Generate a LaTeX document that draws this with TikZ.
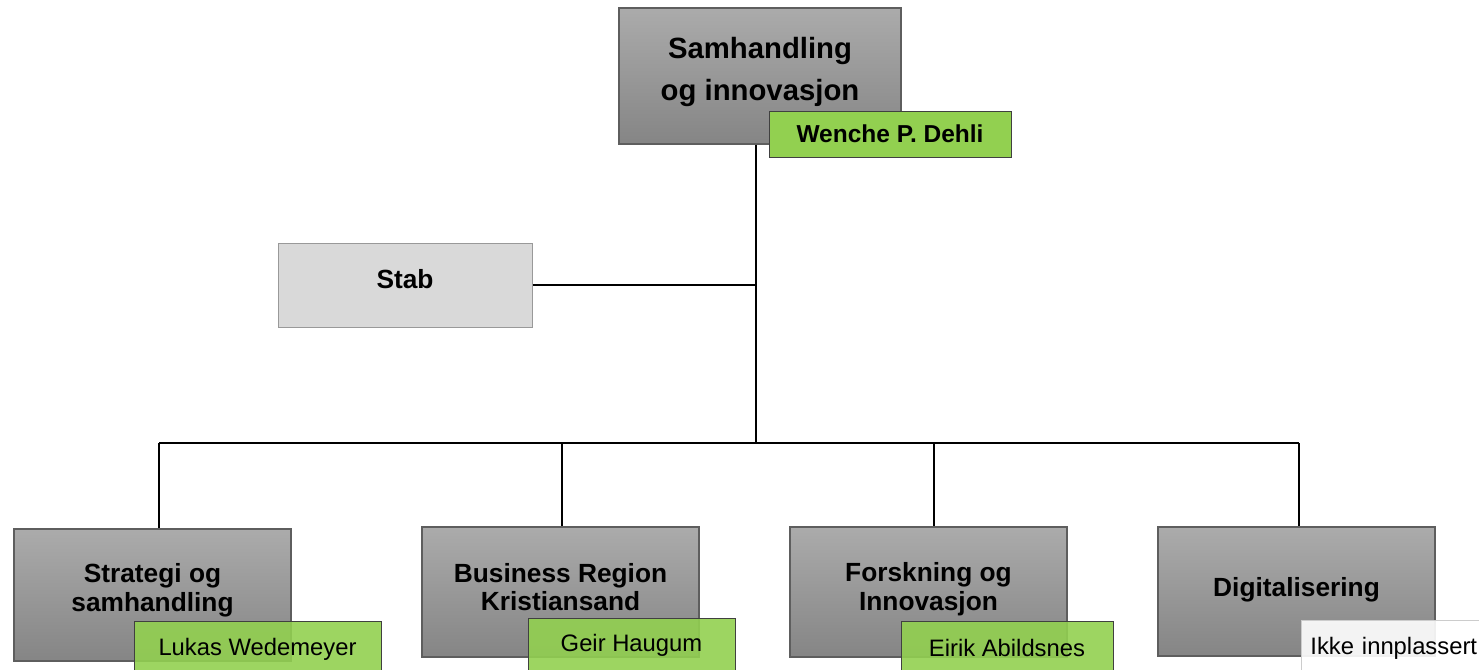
\documentclass[tikz,border=0pt]{standalone}
\usepackage{fontspec}
\setmainfont{Liberation Sans}
\usetikzlibrary{positioning}

\definecolor{boxline}{HTML}{5E5E5E}
\definecolor{boxtop}{HTML}{ABABAB}
\definecolor{boxbottom}{HTML}{858585}
\definecolor{namegreen}{HTML}{92D050}
\definecolor{stabfill}{HTML}{D9D9D9}

\begin{document}
\begin{tikzpicture}[x=1pt, y=-1pt,
    unit/.style={rectangle, draw=boxline, line width=1.2pt, top color=boxtop, bottom color=boxbottom, inner sep=0pt},
    unittext/.style={align=center, font=\fontsize{26.3}{28.5}\selectfont\bfseries, yshift=5pt},
    name tag/.style={rectangle, draw=black!75, line width=0.8pt, fill=namegreen, inner sep=0pt, font=\fontsize{23.8}{26}\selectfont},
    link/.style={line width=1.6pt, black}
]
\useasboundingbox (0,0) rectangle (1479,669);
\clip (0,0) rectangle (1479,669);

% top unit
\node[unit, minimum width=282pt, minimum height=136pt,
      label={[unittext, font=\fontsize{29.3}{42}\selectfont\bfseries, yshift=-1pt]center:Samhandling\\og innovasjon}] (top) at (760,76) {};
\node[name tag, minimum width=242pt, minimum height=46pt, font=\fontsize{24.5}{26}\selectfont\bfseries] (dehli) at (890,134) {Wenche P. Dehli};

% staff
\node[rectangle, draw=black!40, line width=1pt, fill=stabfill, minimum width=254pt, minimum height=84pt,
      font=\fontsize{26.3}{27}\selectfont\bfseries, text depth=12pt] (stab) at (405,285) {Stab};

% departments
\node[unit, minimum width=277pt, minimum height=132pt, label={[unittext]center:Strategi og\\samhandling}] (strategi) at (152.5,595) {};
\node[unit, minimum width=277pt, minimum height=130pt, label={[unittext]center:Business Region\\Kristiansand}] (business) at (560.5,592) {};
\node[unit, minimum width=277pt, minimum height=130pt, label={[unittext, yshift=-2pt]center:Forskning og\\Innovasjon}] (forskning) at (928.5,592) {};
\node[unit, minimum width=277pt, minimum height=129pt, label={[unittext, yshift=-3pt]center:Digitalisering}] (digital) at (1296.5,591.5) {};

% leaders
\node[name tag, fill opacity=0.9, text opacity=1, minimum width=247pt, minimum height=56pt] (lukas) at (257.5,649) {Lukas Wedemeyer};
\node[name tag, fill opacity=0.9, text opacity=1, minimum width=207pt, minimum height=54pt] (geir) at (631.5,645) {Geir Haugum};
\node[name tag, fill opacity=0.9, text opacity=1, minimum width=212pt, minimum height=54pt] (eirik) at (1007,648) {Eirik Abildsnes};
\node[name tag, draw=black!20, fill=white, fill opacity=0.9, text opacity=1, minimum width=200pt, minimum height=56pt,
      anchor=west, align=left, text width=182pt, inner xsep=9pt] (ikke) at (1301,648) {Ikke innplassert};

% connectors
\coordinate (hub) at (756,443);
\draw[link] (top.south -| hub) -- (hub);
\draw[link] (stab.east) -- (stab.east -| hub);
\draw[link] ([xshift=6.5pt]strategi.north |- hub) -- ([xshift=2.5pt]digital.north |- hub);
\foreach \n/\dx in {strategi/6.5, business/1.5, forskning/5.5, digital/2.5}
    \draw[link] ([xshift=\dx pt]\n.north |- hub) -- ([xshift=\dx pt]\n.north);
\end{tikzpicture}
\end{document}
